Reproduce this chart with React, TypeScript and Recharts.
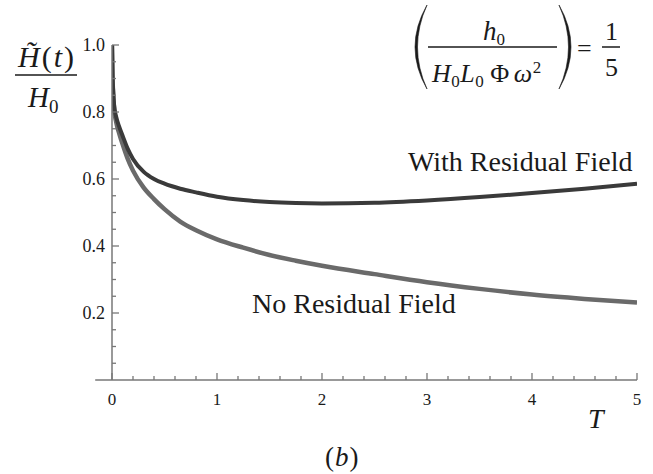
import React from 'react'
import { LineChart, Line, XAxis, YAxis, ReferenceLine } from 'recharts'

// T values and the two curves
const tValues = [0, 0.005, 0.01, 0.02, 0.04, 0.07, 0.1, 0.15, 0.2, 0.3, 0.4, 0.5, 0.65, 0.8, 1, 1.25, 1.5, 1.75, 2, 2.5, 3, 3.5, 4, 4.5, 5]
const withResidual = [1.0, 0.91, 0.87, 0.82, 0.785, 0.755, 0.73, 0.69, 0.66, 0.622, 0.6, 0.586, 0.571, 0.56, 0.547, 0.537, 0.531, 0.528, 0.527, 0.529, 0.536, 0.546, 0.558, 0.571, 0.586]
const noResidual = [1.0, 0.9, 0.86, 0.81, 0.77, 0.735, 0.705, 0.66, 0.625, 0.575, 0.54, 0.51, 0.473, 0.447, 0.42, 0.395, 0.373, 0.356, 0.341, 0.316, 0.292, 0.272, 0.255, 0.242, 0.231]

const xTicks = [0, 0.2, 0.4, 0.6, 0.8, 1, 1.2, 1.4, 1.6, 1.8, 2, 2.2, 2.4, 2.6, 2.8, 3, 3.2, 3.4, 3.6, 3.8, 4, 4.2, 4.4, 4.6, 4.8, 5]
const yTicks = [0.05, 0.1, 0.15, 0.2, 0.25, 0.3, 0.35, 0.4, 0.45, 0.5, 0.55, 0.6, 0.65, 0.7, 0.75, 0.8, 0.85, 0.9, 0.95, 1.0]

const data = tValues.map((t, i) => ({ t, withRes: withResidual[i], noRes: noResidual[i] }))

const serif = 'Liberation Serif'
const axisColor = '#777'
const textColor = '#1a1a1a'
const ts = { fontFamily: serif }

const XTick = (props: any) => {
  const { x, y, payload } = props
  const v = payload.value
  const major = Math.abs(v - Math.round(v)) < 1e-6
  return (
    <g>
      <line x1={x} x2={x} y1={y} y2={y - (major ? 7 : 4)} stroke={axisColor} strokeWidth={1.3} />
      {major && (
        <text x={x} y={y + 25} textAnchor="middle" fontSize={17} style={ts} fill={textColor}>
          {Math.round(v)}
        </text>
      )}
    </g>
  )
}

const YTick = (props: any) => {
  const { x, y, payload } = props
  const v = payload.value
  const major = Math.abs(v * 5 - Math.round(v * 5)) < 1e-6
  return (
    <g>
      <line x1={x} x2={x + (major ? 7 : 4)} y1={y} y2={y} stroke={axisColor} strokeWidth={1.3} />
      {major && (
        <text x={x - 7} y={y + 6} textAnchor="end" fontSize={18} style={ts} fill={textColor}>
          {v.toFixed(1)}
        </text>
      )}
    </g>
  )
}

const Label = ({ left, top, size, italic, spacing, children }: any) => (
  <div
    style={{
      position: 'absolute',
      left,
      top,
      fontFamily: serif,
      fontSize: size,
      fontStyle: italic ? 'italic' : 'normal',
      letterSpacing: spacing || 0,
      color: textColor,
      lineHeight: 1,
      whiteSpace: 'nowrap',
    }}
  >
    {children}
  </div>
)

const Sub = ({ children, size }: any) => (
  <span style={{ fontSize: size, fontStyle: 'normal', position: 'relative', top: '0.3em' }}>{children}</span>
)

const Annotations = () => (
  <>
    <svg width={653} height={474} style={{ position: 'absolute', left: 0, top: 0, pointerEvents: 'none' }}>
      <line x1={15} x2={77} y1={75} y2={75} stroke={textColor} strokeWidth={1.5} />
      <path d="M 427 5 Q 403 47 427 89 Q 408 47 427 5 Z" fill={textColor} stroke={textColor} strokeWidth={0.6} />
      <path d="M 559 5 Q 583 47 559 89 Q 578 47 559 5 Z" fill={textColor} stroke={textColor} strokeWidth={0.6} />
      <line x1={428} x2={557} y1={47} y2={47} stroke={textColor} strokeWidth={1.5} />
      <line x1={602} x2={620} y1={47} y2={47} stroke={textColor} strokeWidth={1.5} />
    </svg>

    {/* y label: H~(t) / H0 */}
    <Label left={18} top={42} size={30} spacing={2}>
      <i>H̃</i>(<i>t</i>)
    </Label>
    <Label left={28} top={83} size={29}>
      <i>H</i>
      <Sub size={19}>0</Sub>
    </Label>

    {/* parameter box */}
    <Label left={483} top={18} size={27}>
      <i>h</i>
      <Sub size={17}>0</Sub>
    </Label>
    <Label left={432} top={59} size={26} spacing={0.5}>
      <i>H</i>
      <Sub size={17}>0</Sub>
      <i>L</i>
      <Sub size={17}>0</Sub>
      <span style={{ marginLeft: 6 }}>Φ</span>
      <i style={{ marginLeft: 4 }}>ω</i>
      <sup style={{ fontSize: 17, fontStyle: 'normal', verticalAlign: '0.5em' }}>2</sup>
    </Label>
    <Label left={577} top={36} size={26}>=</Label>
    <Label left={605} top={19} size={26}>1</Label>
    <Label left={605} top={55} size={26}>5</Label>

    {/* curve labels */}
    <Label left={408} top={148} size={28}>With Residual Field</Label>
    <Label left={252} top={290} size={28}>No Residual Field</Label>

    {/* axis label and panel tag */}
    <Label left={588} top={405} size={28} italic>T</Label>
    <Label left={325} top={444} size={27} spacing={1}>
      (<i>b</i>)
    </Label>
  </>
)

const App: React.FC = () => {
  return (
    <div style={{ position: 'absolute', left: 0, top: 0, width: 653, height: 474, background: '#fff', fontFamily: serif }}>
      <LineChart width={653} height={474} data={data} margin={{ top: 45, right: 16, bottom: 0, left: 0 }}>
        <XAxis
          dataKey="t"
          type="number"
          domain={[0, 5]}
          ticks={xTicks}
          interval={0}
          tickSize={0}
          tickMargin={0}
          tickLine={false}
          tick={XTick}
          height={94}
          axisLine={{ stroke: axisColor, strokeWidth: 1.5 }}
          allowDataOverflow
        />
        <YAxis
          type="number"
          domain={[0, 1]}
          ticks={yTicks}
          interval={0}
          tickSize={0}
          tickMargin={0}
          tickLine={false}
          tick={YTick}
          width={112}
          axisLine={{ stroke: axisColor, strokeWidth: 1.5 }}
          allowDataOverflow
        />
        <ReferenceLine
          segment={[{ x: -0.16, y: 0 }, { x: 0, y: 0 }]}
          stroke={axisColor}
          strokeWidth={1.5}
          ifOverflow="visible"
        />
        <Line
          dataKey="noRes"
          type="monotone"
          stroke="#6a6a6a"
          strokeWidth={4.5}
          dot={false}
          activeDot={false}
          isAnimationActive={false}
        />
        <Line
          dataKey="withRes"
          type="monotone"
          stroke="#3a3a3a"
          strokeWidth={4}
          dot={false}
          activeDot={false}
          isAnimationActive={false}
        />
      </LineChart>
      <Annotations />
    </div>
  )
}

export default App
